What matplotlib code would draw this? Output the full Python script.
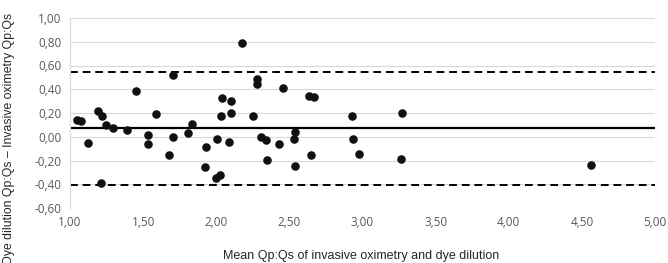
import matplotlib
matplotlib.use('Agg')
import matplotlib.pyplot as plt
import numpy as np

# Bland-Altman data
mean_qpqs = [1.046, 1.075, 1.125, 1.189, 1.217, 1.214, 1.248, 1.292, 1.39, 1.454,
             1.533, 1.533, 1.59,
             1.702, 1.679, 1.702, 1.807, 1.836, 1.923, 1.93, 1.998, 2.026, 2.005,
             2.03, 2.039, 2.099, 2.101, 2.085, 2.176, 2.251, 2.279, 2.279,
             2.306, 2.34, 2.347, 2.456, 2.429, 2.538, 2.53, 2.536, 2.634, 2.666,
             2.648, 2.93, 2.937,
             2.976, 3.27, 3.261, 4.56]
diff_qpqs = [0.137, 0.129, -0.053, 0.218, 0.171, -0.389, 0.101, 0.073, 0.053, 0.389,
             0.017, -0.064, 0.19,
             0.524, -0.151, -0.003, 0.031, 0.104, -0.258, -0.09, -0.347, -0.325, -0.017,
             0.176, 0.325, 0.303, 0.196, -0.048, 0.787, 0.176, 0.49, 0.448,
             -0.006, -0.025, -0.193, 0.412, -0.059, 0.039, -0.02, -0.249, 0.345, 0.331,
             -0.151, 0.171, -0.02,
             -0.146, 0.196, -0.185, -0.24]
bias = 0.07
upper_loa = 0.546
lower_loa = -0.406

xticks = [1.0, 1.5, 2.0, 2.5, 3.0, 3.5, 4.0, 4.5, 5.0]
yticks = [-0.6, -0.4, -0.2, 0.0, 0.2, 0.4, 0.6, 0.8, 1.0]

plt.rcParams['font.family'] = ['Open Sans', 'DejaVu Sans']

fig = plt.figure(figsize=(6.68, 2.63), dpi=100)
ax = fig.add_axes([70/668, 1-208/263, 585/668, 190/263])

ax.set_xlim(1.0, 5.0)
ax.set_ylim(-0.6, 1.0)
ax.set_xticks(xticks)
ax.set_yticks(yticks)
ax.set_xticklabels(['{:.2f}'.format(v).replace('.', ',') for v in xticks])
ax.set_yticklabels(['{:.2f}'.format(v).replace('.', ',') for v in yticks])
ax.grid(axis='y', color='#d9d9d9', linewidth=0.8)
ax.set_axisbelow(True)
for s in ['top', 'right', 'bottom']:
    ax.spines[s].set_visible(False)
ax.spines['left'].set_color('#d9d9d9')
ax.spines['left'].set_linewidth(0.8)
ax.tick_params(length=0, labelsize=8.5, labelcolor='#595959', pad=6)

ax.axhline(bias, color='black', linewidth=1.6, zorder=2)
ax.axhline(upper_loa, color='black', linewidth=1.4, linestyle=(0, (4, 2.5)), zorder=2)
ax.axhline(lower_loa, color='black', linewidth=1.4, linestyle=(0, (4, 2.5)), zorder=2)

ax.scatter(mean_qpqs, diff_qpqs, s=38, color='#111111', zorder=3, linewidths=0)

fig.text(0.014, 0.472, 'Dye dilution Qp:Qs – Invasive oximetry Qp:Qs', rotation=90,
         ha='center', va='center', fontsize=8.8, color='#262626', family='Liberation Sans')
fig.text(0.54, 0.027, 'Mean Qp:Qs of invasive oximetry and dye dilution',
         ha='center', va='center', fontsize=9, color='#262626', family='Liberation Sans')

fig.savefig('out.png', dpi=100)
